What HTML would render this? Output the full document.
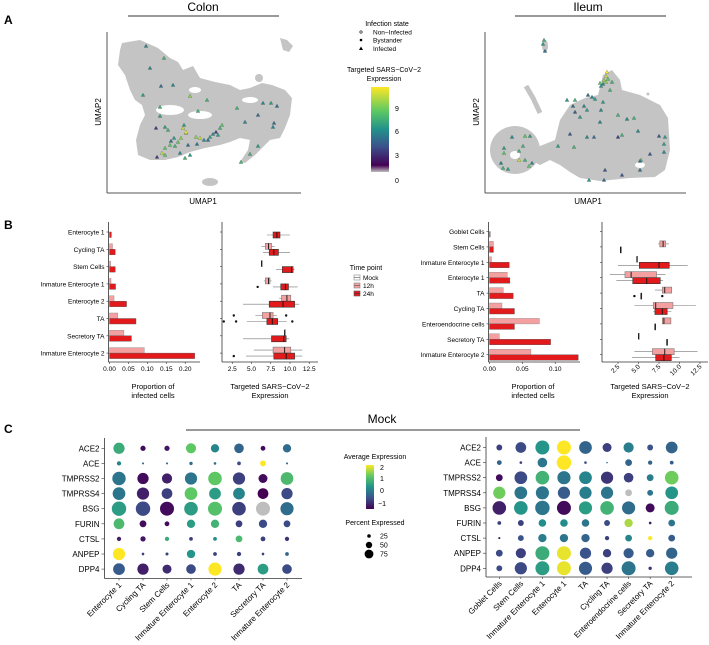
<!DOCTYPE html>
<html><head><meta charset="utf-8"><style>
body{margin:0;background:#fff}
svg{display:block;font-family:"Liberation Sans",sans-serif}
</style></head><body>
<svg id="fig" width="709" height="645" viewBox="0 0 709 645" xmlns="http://www.w3.org/2000/svg">
<defs>
<linearGradient id="vir" x1="0" y1="1" x2="0" y2="0">
<stop offset="0" stop-color="#bebebe"/><stop offset="0.08" stop-color="#440154"/><stop offset="0.3" stop-color="#3b528b"/><stop offset="0.5" stop-color="#21918c"/><stop offset="0.72" stop-color="#5ec962"/><stop offset="1" stop-color="#fde725"/>
</linearGradient>
<linearGradient id="vir2" x1="0" y1="1" x2="0" y2="0">
<stop offset="0" stop-color="#440154"/><stop offset="0.25" stop-color="#3b528b"/><stop offset="0.5" stop-color="#21918c"/><stop offset="0.75" stop-color="#5ec962"/><stop offset="1" stop-color="#fde725"/>
</linearGradient>
</defs>
<g font-weight="bold" font-size="12">
<text x="4" y="24">A</text>
<text x="4" y="229">B</text>
<text x="4" y="433">C</text>
</g>
<text x="203" y="11" font-size="12" text-anchor="middle">Colon</text>
<line x1="128" y1="16" x2="279" y2="16" stroke="#333"/>
<text x="588" y="11" font-size="12" text-anchor="middle">Ileum</text>
<line x1="515" y1="16" x2="666" y2="16" stroke="#333"/>
<!-- colon umap -->
<g fill="#c4c4c4">
<polygon points="122,43 140,40 158,48 170,58 178,62 183,70 193,66 200,78 215,82 230,85 240,90 250,88 262,83 272,85 285,90 292,98 290,115 285,128 280,138 270,140 262,148 255,155 245,163 240,162 248,150 250,140 240,138 230,142 220,145 205,148 190,152 178,157 165,160 150,160 138,155 136,140 140,125 145,115 142,105 135,100 130,90 125,75 118,65 120,50"/>
<polygon points="280,38 287,40 293,46 289,52 283,50"/>
<ellipse cx="259" cy="78" rx="4" ry="4"/>
<ellipse cx="210" cy="182" rx="8" ry="4"/>
<ellipse cx="170" cy="110" rx="14" ry="5" fill="#fff"/>
<ellipse cx="200" cy="115" rx="12" ry="4" fill="#fff"/>
<ellipse cx="250" cy="100" rx="8" ry="3" fill="#fff"/>
<ellipse cx="195" cy="90" rx="6" ry="3" fill="#fff"/>
</g>
<g id="colonTri"></g>
<line x1="107" y1="32" x2="107" y2="193" stroke="#555"/>
<line x1="107" y1="193" x2="301" y2="193" stroke="#555"/>
<text x="203" y="204" font-size="8" text-anchor="middle">UMAP1</text>
<text x="0" y="0" font-size="8" text-anchor="middle" transform="translate(101,112) rotate(-90)">UMAP2</text>
<!-- ileum umap -->
<g fill="#c4c4c4">
<ellipse cx="515" cy="150" rx="25" ry="24"/>
<polygon points="530,150 555,140 560,120 570,105 585,98 598,95 600,87 603,75 612,70 620,80 622,90 640,95 660,105 668,118 670,150 665,170 655,177 630,178 600,181 580,178 570,172 560,165 550,160 540,165 530,160"/>
<path d="M526,86 L533,98 L540,113" stroke="#c4c4c4" stroke-width="5" fill="none"/>
<ellipse cx="545" cy="46" rx="3" ry="6"/>
<circle cx="648" cy="94" r="1.5"/>
<ellipse cx="515" cy="155" rx="5" ry="4" fill="#fff"/>
<ellipse cx="640" cy="165" rx="5" ry="3" fill="#fff"/>
</g>
<g id="ileumTri"></g>
<line x1="485" y1="32" x2="485" y2="193" stroke="#555"/>
<line x1="485" y1="193" x2="686" y2="193" stroke="#555"/>
<text x="588" y="204" font-size="8" text-anchor="middle">UMAP1</text>
<text x="0" y="0" font-size="8" text-anchor="middle" transform="translate(479,112) rotate(-90)">UMAP2</text>
<!-- A legend -->
<g font-size="6.5">
<text x="387" y="26" text-anchor="middle" font-size="7">Infection state</text>
<circle cx="361" cy="32" r="1.2" fill="none" stroke="#000" stroke-width="0.6"/><text x="373" y="34.5">Non−Infected</text>
<circle cx="361" cy="40" r="1.3" fill="#000"/><text x="373" y="42.5">Bystander</text>
<polygon points="361,46.5 363,50 359,50" fill="#000"/><text x="373" y="51">Infected</text>
</g>
<g font-size="7">
<text x="384" y="72" text-anchor="middle">Targeted SARS−CoV−2</text>
<text x="384" y="81" text-anchor="middle">Expression</text>
<rect x="371" y="87" width="18" height="85" fill="url(#vir)"/>
<text x="395" y="111">9</text><text x="395" y="134">6</text><text x="395" y="158">3</text><text x="395" y="183">0</text>
</g>
<!-- B charts -->
<g id="barsColon"></g>
<g id="boxColon"></g>
<g id="barsIleum"></g>
<g id="boxIleum"></g>
<g font-size="6.5">
<text x="366" y="270" text-anchor="middle" font-size="7">Time point</text>
<rect x="354" y="275" width="6" height="5" fill="#fff" stroke="#888" stroke-width="0.6"/><line x1="354" y1="277.5" x2="360" y2="277.5" stroke="#555" stroke-width="0.6"/><text x="363" y="280">Mock</text>
<rect x="354" y="283" width="6" height="5" fill="#f4a0a0" stroke="#888" stroke-width="0.6"/><line x1="354" y1="285.5" x2="360" y2="285.5" stroke="#555" stroke-width="0.6"/><text x="363" y="288">12h</text>
<rect x="354" y="291" width="6" height="5" fill="#e31a1c" stroke="#555" stroke-width="0.6"/><line x1="354" y1="293.5" x2="360" y2="293.5" stroke="#333" stroke-width="0.6"/><text x="363" y="296">24h</text>
</g>
<!-- C -->
<text x="382" y="423" font-size="12" text-anchor="middle">Mock</text>
<line x1="186" y1="430" x2="580" y2="430" stroke="#333"/>
<g id="dotColon"></g>
<g id="dotIleum"></g>
<g font-size="7">
<text x="375" y="459" text-anchor="middle">Average Expression</text>
<rect x="366" y="465" width="8" height="44" fill="url(#vir2)"/>
<text x="380" y="470">2</text><text x="380" y="481">1</text><text x="380" y="493">0</text><text x="378" y="506">−1</text>
</g>
<g font-size="7">
<text x="375" y="525" text-anchor="middle">Percent Expressed</text>
<circle cx="369" cy="536" r="1.8"/><text x="380" y="538.5">25</text>
<circle cx="369" cy="545" r="3.2"/><text x="380" y="547.5">50</text>
<circle cx="369" cy="554" r="4.4"/><text x="380" y="556.5">75</text>
</g>
</svg>
<script>
const NS="http://www.w3.org/2000/svg";
function mk(tag,attrs,parent){const e=document.createElementNS(NS,tag);for(const k in attrs)e.setAttribute(k,attrs[k]);parent.appendChild(e);return e;}
const vStops=[[68,1,84],[59,82,139],[33,145,140],[94,201,98],[253,231,37]];
function viridis(t){t=Math.max(0,Math.min(1,t));const s=t*4,i=Math.min(3,Math.floor(s)),f=s-i;const a=vStops[i],b=vStops[i+1];return `rgb(${Math.round(a[0]+(b[0]-a[0])*f)},${Math.round(a[1]+(b[1]-a[1])*f)},${Math.round(a[2]+(b[2]-a[2])*f)})`;}

// UMAP infected cells [x,y,expression]
const colonInfected=[[146,46,5],[164,58,7],[150,68,5],[161,86,4],[173,85,5],[143,95,6],[190,96,9],[207,100,7],[160,107,7],[198,111,7],[263,103,5],[271,103,6],[277,106,4],[237,108,7],[258,115,4],[245,122,5],[274,123,4],[273,127,5],[160,116,6],[165,127,6],[168,130,7],[156,128,2],[184,125,6],[186,133,9],[186,132,11],[183,128,10],[181,138,9],[174,138,6],[171,141,4],[178,142,8],[175,146,7],[188,145,4],[196,137,9],[200,138,10],[204,140,5],[210,137,6],[213,134,5],[216,132,2],[220,128,7],[222,125,8],[218,135,6],[208,140,4],[162,153,10],[157,157,2],[165,155,8],[180,153,5],[185,158,7],[190,155,6],[258,146,6],[250,154,7],[241,162,7],[165,148,8],[197,144,4],[170,145,8]];
const ileumInfected=[[544,40,7],[543,44,6],[545,51,4],[607,72,11],[606,76,10],[604,80,9],[608,79,8],[603,84,5],[610,90,7],[606,82,9],[600,83,8],[601,86,6],[612,82,7],[567,100,6],[575,100,7],[588,95,4],[592,97,5],[595,99,6],[603,102,6],[587,110,6],[601,110,5],[575,112,3],[573,106,4],[584,106,5],[580,117,6],[618,115,7],[627,119,5],[634,118,7],[600,122,5],[570,134,3],[587,137,5],[594,137,4],[618,137,2],[638,131,5],[659,136,3],[665,137,6],[664,144,6],[650,154,3],[664,152,5],[641,160,8],[640,161,4],[640,170,4],[622,175,3],[604,180,4],[512,137,5],[525,136,8],[530,136,6],[523,146,7],[519,151,7],[504,148,6],[504,153,8],[501,163,5],[503,168,7],[508,169,6],[519,160,10],[525,160,7],[529,166,8],[532,163,5],[558,146,6],[574,147,7],[605,170,3],[589,180,6],[622,135,7]];
function drawTri(g,pts){pts.forEach(p=>{const t=mk('polygon',{points:`${p[0]},${p[1]-2} ${p[0]+2},${p[1]+1.5} ${p[0]-2},${p[1]+1.5}`,fill:viridis(p[2]/11),stroke:'#666','stroke-width':0.3},g);

});}
drawTri(document.getElementById('colonTri'),colonInfected);
drawTri(document.getElementById('ileumTri'),ileumInfected);

// Panel B data
const colonCats=["Enterocyte 1","Cycling TA","Stem Cells","Inmature Enterocyte 1","Enterocyte 2","TA","Secretory TA","Inmature Enterocyte 2"];
const colonProp12h=[0,0.008,0.003,0.004,0.012,0.022,0.038,0.092];
const colonProp24h=[0.005,0.015,0.015,0.016,0.045,0.07,0.058,0.225];
const colonPropTicks=[0,0.05,0.10,0.15,0.20];
const colonBox12h=[null,[6.3,6.8,7.2,7.6,8.0],[6.3,6.3,6.3,6.3,6.3],[6.6,6.8,7.2,7.4,7.6],[8.6,8.9,9.6,10.1,10.1],[5.5,6.4,7.4,7.8,8.3],[9.3,9.3,9.3,9.3,9.3],[5.3,7.8,9.3,10.1,11.6]];
const colonBox24h=[[7.0,7.8,8.3,8.7,10.0],[6.5,7.3,7.9,8.5,10.0],[8.2,9.0,10.2,10.4,10.6],[7.8,8.8,9.4,9.8,11.0],[3.9,7.3,9.1,10.6,11.2],[4.4,7.0,7.7,8.4,9.6],[3.9,7.6,9.2,9.5,9.9],[4.3,7.9,9.5,10.6,11.6]];
const colonOut12h=[[],[],[],[],[],[2.7,9.5],[],[]];
const colonOut24h=[[],[],[],[5.8],[],[1.4,3.0,10.3],[],[2.7]];
const exprTicks=[2.5,5.0,7.5,10.0,12.5];

const ileumCats=["Goblet Cells","Stem Cells","Inmature Enterocyte 1","Enterocyte 1","TA","Cycling TA","Enteroendocrine cells","Secretory TA","Inmature Enterocyte 2"];
const ileumProp12h=[0,0.006,0.003,0.027,0.021,0.019,0.076,0.015,0.063];
const ileumProp24h=[0.001,0.006,0.03,0.031,0.036,0.038,0.038,0.093,0.135];
const ileumPropTicks=[0,0.05,0.10];
const ileumBox12h=[null,[7.4,7.6,8.0,8.3,8.7],[4.8,4.8,4.8,4.8,4.8],[1.5,3.35,4.1,7.2,8.3],[7.0,7.9,8.2,9.05,9.1],[4.5,6.8,7.1,9.2,12.0],[7.9,7.9,8.1,8.95,8.95],[5.0,5.0,5.0,5.0,5.0],[4.5,6.7,8.2,9.35,12.2]];
const ileumBox24h=[null,[2.8,2.8,2.8,2.8,2.8],[2.5,5.1,7.5,8.75,11.0],[2.3,4.3,6.0,7.65,8.0],[5.3,5.3,5.3,5.3,5.3],[6.8,7.0,7.9,8.5,9.0],[7.0,7.0,7.0,7.0,7.0],[8.45,8.45,8.45,8.45,8.45],[4.2,7.1,8.1,9.0,10.0]];
const ileumOut24h=[[],[],[],[],[4.5,7.9],[],[],[],[]];

function barChart(g,cats,v12,v24,ticks,o){
  const X=v=>o.x0+v*o.k, Y=i=>o.y0+i*o.step;
  mk('line',{x1:o.x0-1,y1:o.top,x2:o.x0-1,y2:o.bot,stroke:'#333','stroke-width':0.8},g);
  mk('line',{x1:o.x0-1,y1:o.bot,x2:o.xend,y2:o.bot,stroke:'#333','stroke-width':0.8},g);
  cats.forEach((c,i)=>{
    const t=mk('text',{x:o.x0-5,y:Y(i)+2.5,'font-size':6.5,'text-anchor':'end'},g);t.textContent=c;
    
    
    mk('line',{x1:o.x0-3,y1:Y(i),x2:o.x0-1,y2:Y(i),stroke:'#333','stroke-width':0.6},g);
    const b1=mk('rect',{x:o.x0,y:Y(i)-5.5,width:Math.max(0,X(v12[i])-o.x0),height:5.5,fill:'#f4a0a0',stroke:'#888','stroke-width':0.4},g);
    
    
    const b2=mk('rect',{x:o.x0,y:Y(i),width:Math.max(0,X(v24[i])-o.x0),height:5.5,fill:'#e31a1c',stroke:'#555','stroke-width':0.4},g);
    
    
  });
  ticks.forEach(v=>{mk('line',{x1:X(v),y1:o.bot,x2:X(v),y2:o.bot+2,stroke:'#333','stroke-width':0.6},g);
    const t=mk('text',{x:X(v),y:o.bot+9,'font-size':6.5,'text-anchor':'middle'},g);t.textContent=v.toFixed(2);
    
    });
  const a=mk('text',{x:o.lx,y:o.bot+27,'font-size':7.5,'text-anchor':'middle'},g);a.textContent='Proportion of';
  
  
  const b=mk('text',{x:o.lx,y:o.bot+36,'font-size':7.5,'text-anchor':'middle'},g);b.textContent='infected cells';
  
  
}
barChart(document.getElementById('barsColon'),colonCats,colonProp12h,colonProp24h,colonPropTicks,{x0:109.5,k:378.5,y0:232,step:17.3,top:222,bot:362,xend:200,lx:153});
barChart(document.getElementById('barsIleum'),ileumCats,ileumProp12h,ileumProp24h,ileumPropTicks,{x0:489.5,k:657,y0:231.5,step:15.4,top:222,bot:362,xend:580,lx:533});

function boxChart(g,n,b12,b24,o12,o24,ticks,o){
  const X=v=>o.x0+v*o.k, Y=i=>o.y0+i*o.step;
  mk('line',{x1:o.ax,y1:o.top,x2:o.ax,y2:o.bot,stroke:'#333','stroke-width':0.8},g);
  mk('line',{x1:o.ax,y1:o.bot,x2:o.xend,y2:o.bot,stroke:'#333','stroke-width':0.8},g);
  function box(b,y,fill,stroke){
    if(!b)return;
    mk('line',{x1:X(b[0]),y1:y,x2:X(b[4]),y2:y,stroke:'#777','stroke-width':0.6},g);
    const r=mk('rect',{x:X(b[1]),y:y-3,width:Math.max(0.8,X(b[3])-X(b[1])),height:6,fill:fill,stroke:stroke,'stroke-width':0.6},g);
    
    
    mk('line',{x1:X(b[2]),y1:y-3,x2:X(b[2]),y2:y+3,stroke:'#111','stroke-width':0.9},g);
  }
  for(let i=0;i<n;i++){
    mk('line',{x1:o.ax-2,y1:Y(i),x2:o.ax,y2:Y(i),stroke:'#333','stroke-width':0.6},g);
    box(b12[i],Y(i)-3,'#f4a0a0','#777');
    box(b24[i],Y(i)+3,'#e31a1c','#333');
    (o12[i]||[]).forEach(v=>mk('circle',{cx:X(v),cy:Y(i)-3,r:1.2,fill:'#111'},g));
    (o24[i]||[]).forEach(v=>mk('circle',{cx:X(v),cy:Y(i)+3,r:1.2,fill:'#111'},g));
  }
  ticks.forEach(v=>{mk('line',{x1:X(v),y1:o.bot,x2:X(v),y2:o.bot+2,stroke:'#333','stroke-width':0.6},g);
    let t;
    if(o.rot){t=mk('text',{x:0,y:0,'font-size':6.5,'text-anchor':'end',transform:`translate(${X(v)+2},${o.bot+5}) rotate(-45)`},g);}
    else{t=mk('text',{x:X(v),y:o.bot+9,'font-size':6.5,'text-anchor':'middle'},g);}
    t.textContent=v.toFixed(1);
    
    });
  const a=mk('text',{x:o.lx,y:o.bot+27,'font-size':7.5,'text-anchor':'middle'},g);a.textContent='Targeted SARS−CoV−2';
  
  
  const b=mk('text',{x:o.lx,y:o.bot+36,'font-size':7.5,'text-anchor':'middle'},g);b.textContent='Expression';
  
  
}
boxChart(document.getElementById('boxColon'),8,colonBox12h,colonBox24h,colonOut12h,colonOut24h,exprTicks,{x0:213,k:7.7,ax:222,y0:232,step:17.3,top:222,bot:362,xend:318,lx:270,rot:false});
boxChart(document.getElementById('boxIleum'),9,ileumBox12h,ileumBox24h,[],ileumOut24h,exprTicks,{x0:597.5,k:8.2,ax:602,y0:231.5,step:15.4,top:222,bot:362,xend:708,lx:650,rot:true});

// Panel C data: [avg expression, percent expressed]; null expression = grey
const genes=["ACE2","ACE","TMPRSS2","TMPRSS4","BSG","FURIN","CTSL","ANPEP","DPP4"];
const colonDotCats=["Enterocyte 1","Cycling TA","Stem Cells","Inmature Enterocyte 1","Enterocyte 2","TA","Secretory TA","Inmature Enterocyte 2"];
const colonDotExpr=[
[0.8,-1,-0.9,1.2,0.3,-0.1,-1,0],
[0.3,0,0,0,0,-0.4,2,0],
[0.1,-1,-0.8,0.1,1.2,-0.5,-1,1.0],
[0.1,-0.8,-0.5,1.2,0.6,0.3,-1.1,-0.4],
[0.6,-0.4,-1,0.6,1.1,-0.5,null,0],
[1.0,-1,-1,0.6,0.9,-0.5,-0.4,-0.4],
[-0.8,-0.9,0.8,-0.5,0.4,1.0,-0.5,-0.6],
[2,-0.5,-0.5,0.5,-0.5,-0.5,-0.5,-0.1],
[-0.2,-0.8,-0.7,-0.4,2,-0.7,0.6,-0.4]];
const colonDotPct=[
[55,12,12,45,30,40,10,30],
[8,2,2,5,3,6,15,2],
[78,55,45,65,80,65,35,70],
[70,65,50,70,60,60,50,55],
[90,90,85,80,85,80,85,75],
[50,20,10,30,30,20,30,20],
[8,12,8,6,6,20,10,8],
[65,3,4,30,6,8,3,6],
[60,55,35,40,75,55,50,40]];
const ileumDotCats=["Goblet Cells","Stem Cells","Inmature Enterocyte 1","Enterocyte 1","TA","Cycling TA","Enteroendocrine cells","Secretory TA","Inmature Enterocyte 2"];
const ileumDotExpr=[
[-0.5,-0.4,0.5,2,-0.1,-0.5,0.2,-0.3,-0.1],
[-0.1,-0.5,0.1,2,-0.3,0,-0.1,-0.1,-0.2],
[-1,-0.4,0.9,0.1,0.3,-0.6,-0.5,0.2,1.3],
[1.3,0.1,0.1,-0.2,0.2,0.1,null,0.1,0.5],
[-0.8,0.5,0.1,-1,0.6,0.9,0,-1,0.8],
[-0.5,-0.5,0.4,0.4,0.1,-0.4,1.6,-0.8,0.1],
[-0.8,-0.3,0.2,0.1,-0.1,-0.5,0.3,2,-0.2],
[-0.4,-0.5,0.8,1.9,-0.3,-0.5,-0.2,-0.2,-0.1],
[-0.4,-0.4,0.6,1.9,-0.2,-0.5,0.1,-0.6,0.2]];
const ileumDotPct=[
[15,50,85,85,70,35,45,15,60],
[10,3,40,90,3,1,20,8,6],
[20,70,80,75,70,65,40,20,80],
[65,70,75,65,65,65,20,15,70],
[80,80,90,85,75,80,75,35,85],
[6,15,25,25,25,15,30,3,20],
[2,15,30,30,30,8,20,8,20],
[20,45,85,85,55,30,45,30,55],
[15,65,85,85,75,55,85,5,80]];

function dotPlot(g,cats,expr,pct,o){
  const X=j=>o.x0+j*o.dx, Y=i=>o.y0+i*o.dy;
  mk('line',{x1:o.ax,y1:o.top,x2:o.ax,y2:o.bot,stroke:'#333','stroke-width':0.8},g);
  mk('line',{x1:o.ax,y1:o.bot,x2:o.xend,y2:o.bot,stroke:'#333','stroke-width':0.8},g);
  genes.forEach((gn,i)=>{
    const t=mk('text',{x:o.ax-5,y:Y(i)+3,'font-size':8,'text-anchor':'end'},g);t.textContent=gn;
    
    
    mk('line',{x1:o.ax-3,y1:Y(i),x2:o.ax,y2:Y(i),stroke:'#333','stroke-width':0.6},g);
    cats.forEach((c,j)=>{
      const e=expr[i][j];
      const col=e===null?'#bebebe':viridis((e+1.1)/3.1);
      const r=Math.max(0.4,7.2*Math.sqrt(pct[i][j]/90));
      const d=mk('circle',{cx:X(j),cy:Y(i),r:r,fill:col},g);
      
      
    });
  });
  cats.forEach((c,j)=>{
    mk('line',{x1:X(j),y1:o.bot,x2:X(j),y2:o.bot+2,stroke:'#333','stroke-width':0.6},g);
    const t=mk('text',{x:0,y:0,'font-size':8,'text-anchor':'end',transform:`translate(${X(j)+3},${o.bot+7}) rotate(-45)`},g);t.textContent=c;
    
    
  });
}
dotPlot(document.getElementById('dotColon'),colonDotCats,colonDotExpr,colonDotPct,{x0:119,dx:24,y0:448.3,dy:15.1,ax:104.5,top:438,bot:578.5,xend:302});
dotPlot(document.getElementById('dotIleum'),ileumDotCats,ileumDotExpr,ileumDotPct,{x0:499.3,dx:21.55,y0:447.5,dy:15.1,ax:486,top:437,bot:577,xend:692});
</script>
</body></html>
